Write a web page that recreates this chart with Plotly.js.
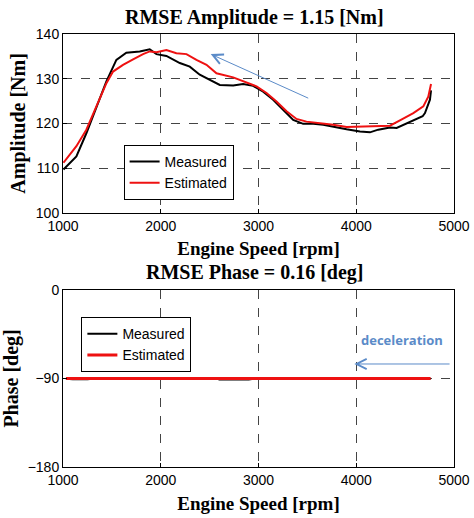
<!DOCTYPE html>
<html>
<head>
<meta charset="utf-8">
<script src="https://cdn.plot.ly/plotly-3.0.1.min.js"></script>
<style>html,body{margin:0;padding:0;background:#fff;}#chart{width:474px;height:518px;}</style>
</head>
<body>
<div id="chart"></div>
<script>
// Amplitude: measured
const ampMeasRpm = [1005,1137,1239,1341,1444,1546,1648,1785,1887,1956,2058,2195,2297,2399,2536,2604,2741,2843,2945,3048,3150,3253,3355,3457,3560,3662,3765,3901,4038,4140,4225,4345,4413,4549,4679,4703,4754,4765];
const ampMeas = [109.7,112.6,117.8,123.8,129.4,134.2,135.8,136.1,136.6,135.5,135.1,133.5,132.7,130.9,129.4,128.6,128.5,128.8,128.4,127.1,125.3,123.0,120.8,119.9,119.9,119.7,119.2,118.7,118.2,118.0,118.6,119.1,119.0,120.4,121.6,122.3,125.3,127.4];
// Amplitude: estimated
const ampEstRpm = [1005,1137,1239,1341,1444,1512,1614,1717,1819,1887,1956,2058,2160,2263,2365,2468,2570,2741,2877,2980,3082,3184,3287,3389,3491,3628,3765,3901,4038,4174,4345,4447,4584,4686,4737,4765];
const ampEst = [111.2,114.9,118.6,123.8,129.0,131.6,133.1,134.3,135.5,136.1,135.9,136.4,135.7,135.5,134.2,133.1,131.2,130.3,129.1,128.3,126.8,124.9,122.7,121.0,120.4,120.1,119.7,119.2,119.3,119.5,119.5,120.7,122.3,123.8,126.0,128.8];
// Phase
const phaseMeasRpm = [1030,1100,1250,1300,2580,2600,2900,2950,4760];
const phaseMeas = [-90.3,-90.9,-90.9,-90.3,-90.3,-91.0,-91.0,-90.3,-90.3];
const phaseEstRpm = [1030,2000,3000,4000,4760];
const phaseEst = [-90,-90,-90,-90,-90];

const tickFont = {family: 'Liberation Sans, Arial, sans-serif', size: 14, color: '#000'};
const titleFont = {family: 'Liberation Serif, Times New Roman, serif', size: 20, color: '#000'};
const xTitleFont = {family: 'Liberation Serif, Times New Roman, serif', size: 19, color: '#000'};
const yTitleFont = {family: 'Liberation Serif, Times New Roman, serif', size: 20, color: '#000'};
const legFont = {family: 'Liberation Sans, Arial, sans-serif', size: 14, color: '#000'};
const blue = '#5b8bc8';

const traces = [
  {x: ampMeasRpm, y: ampMeas, mode: 'lines', name: 'Measured', line: {color: '#000', width: 2}, xaxis: 'x', yaxis: 'y', legend: 'legend'},
  {x: ampEstRpm, y: ampEst, mode: 'lines', name: 'Estimated', line: {color: '#ee1111', width: 2}, xaxis: 'x', yaxis: 'y', legend: 'legend'},
  {x: phaseMeasRpm, y: phaseMeas, mode: 'lines', name: 'Measured', line: {color: '#000', width: 2}, xaxis: 'x2', yaxis: 'y2', legend: 'legend2'},
  {x: phaseEstRpm, y: phaseEst, mode: 'lines', name: 'Estimated', line: {color: '#ee1111', width: 3}, xaxis: 'x2', yaxis: 'y2', legend: 'legend2'}
];

const axBase = {
  showline: true, mirror: true, linecolor: '#000', linewidth: 1,
  showgrid: true, gridcolor: '#444', griddash: 'dash', gridwidth: 1,
  ticks: 'inside', ticklen: 4, tickcolor: '#000',
  tickfont: tickFont, zeroline: false, fixedrange: true
};

const layout = {
  width: 474, height: 518,
  margin: {l: 63, r: 20, t: 34, b: 51},
  paper_bgcolor: '#fff', plot_bgcolor: '#fff',
  showlegend: true,
  xaxis: Object.assign({}, axBase, {domain: [0, 1], range: [1000, 5000], tickvals: [1000,2000,3000,4000,5000], anchor: 'y',
    title: {text: '<b>Engine Speed [rpm]</b>', font: xTitleFont, standoff: 9}}),
  yaxis: Object.assign({}, axBase, {domain: [0.587, 1], range: [100, 140], tickvals: [100,110,120,130,140], anchor: 'x',
    title: {text: '<b>Amplitude [Nm]</b>', font: yTitleFont, standoff: 4}}),
  xaxis2: Object.assign({}, axBase, {domain: [0, 1], range: [1000, 5000], tickvals: [1000,2000,3000,4000,5000], anchor: 'y2',
    title: {text: '<b>Engine Speed [rpm]</b>', font: xTitleFont, standoff: 9}}),
  yaxis2: Object.assign({}, axBase, {domain: [0, 0.409], range: [-180, 0], tickvals: [-180,-90,0], anchor: 'x2',
    title: {text: '<b>Phase [deg]</b>', font: yTitleFont, standoff: 4}}),
  legend: {x: 0.155, y: 0.744, xref: 'paper', yref: 'paper', xanchor: 'left', yanchor: 'top',
    bgcolor: '#fff', bordercolor: '#000', borderwidth: 1, font: legFont, tracegroupgap: 0},
  legend2: {x: 0.047, y: 0.346, xref: 'paper', yref: 'paper', xanchor: 'left', yanchor: 'top',
    bgcolor: '#fff', bordercolor: '#000', borderwidth: 1, font: legFont, tracegroupgap: 0},
  annotations: [
    {text: '<b>RMSE Amplitude = 1.15 [Nm]</b>', xref: 'paper', yref: 'paper', x: 0.49, y: 1, yshift: 17, showarrow: false, font: titleFont, xanchor: 'center', yanchor: 'middle'},
    {text: '<b>RMSE Phase = 0.16 [deg]</b>', xref: 'paper', yref: 'paper', x: 0.49, y: 0.409, yshift: 17, showarrow: false, font: titleFont, xanchor: 'center', yanchor: 'middle'},
    {x: 2511, y: 135.5, ax: 3524, ay: 125.5, xref: 'x', yref: 'y', axref: 'x', ayref: 'y', text: '', showarrow: true,
      arrowhead: 5, arrowsize: 2, arrowwidth: 1, arrowcolor: blue},
    {x: 3980, y: -75.3, ax: 4970, ay: -75.3, xref: 'x2', yref: 'y2', axref: 'x2', ayref: 'y2', text: '', showarrow: true,
      arrowhead: 5, arrowsize: 2, arrowwidth: 1, arrowcolor: blue},
    {x: 4465, y: -50.8, xref: 'x2', yref: 'y2', text: '<b>deceleration</b>', showarrow: false,
      font: {family: 'Open Sans, Liberation Sans, sans-serif', size: 13, color: blue}}
  ]
};

Plotly.newPlot('chart', traces, layout, {staticPlot: true, displayModeBar: false});
</script>
</body>
</html>
